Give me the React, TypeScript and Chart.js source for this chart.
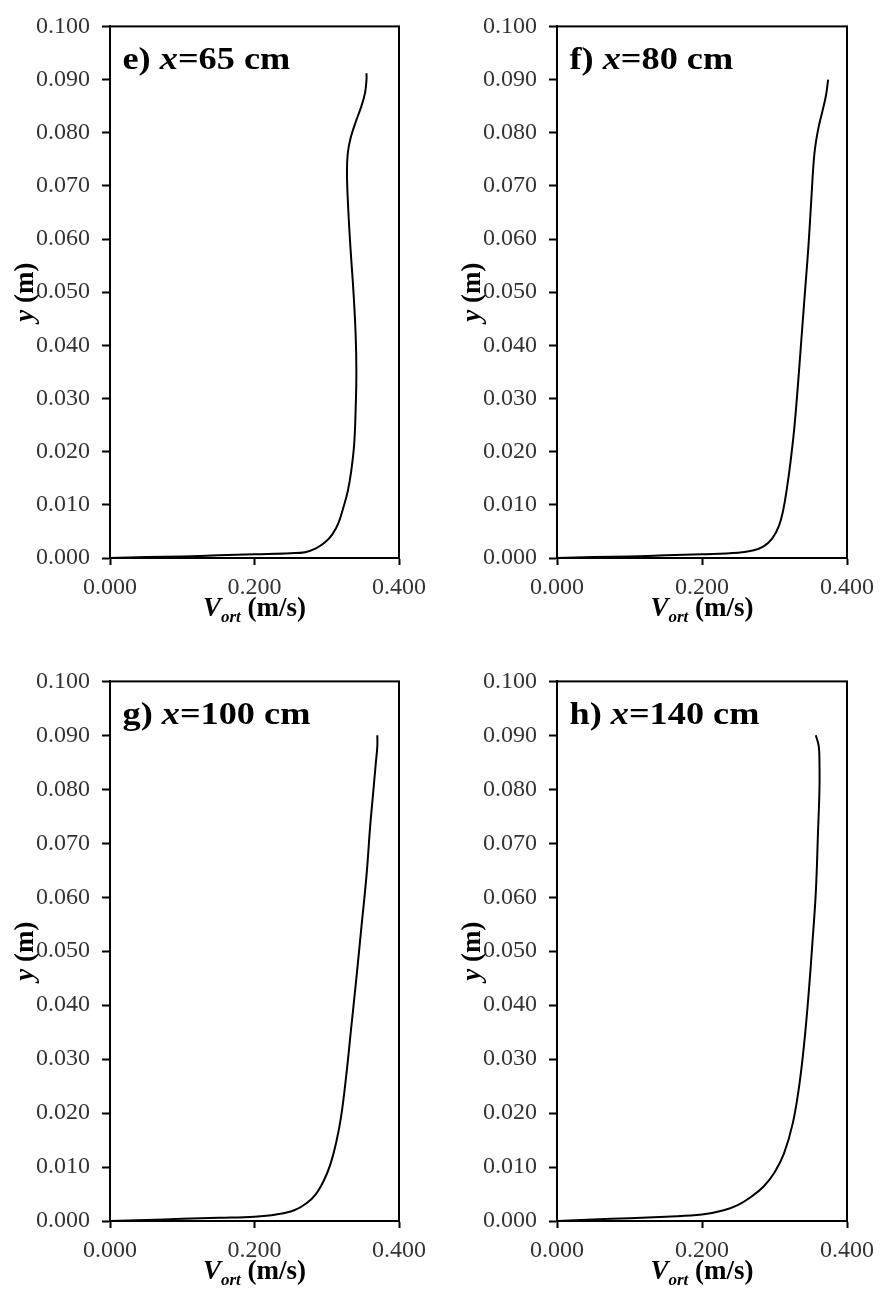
import React, { useEffect, useRef } from 'react';
import { Chart, registerables } from 'chart.js';

Chart.register(...registerables);

// ---- data (V_ort in m/s, y in m) ----
const X_MIN = 0;
const X_MAX = 0.4;
const X_STEP = 0.2;
const Y_MIN = 0;
const Y_MAX = 0.1;
const Y_STEP = 0.01;

const panelLetters = ['e)', 'f)', 'g)', 'h)'];
const panelStations = ['65', '80', '100', '140'];

const velE = [0.000, 0.050, 0.100, 0.150, 0.200, 0.250, 0.270, 0.285, 0.298, 0.308, 0.316, 0.323, 0.329, 0.334, 0.338, 0.340, 0.341, 0.340, 0.337, 0.333, 0.330, 0.328, 0.329, 0.333, 0.340, 0.348, 0.353, 0.355, 0.355];
const yE = [0.0000, 0.0002, 0.0003, 0.0005, 0.0007, 0.0009, 0.0011, 0.0018, 0.0030, 0.0045, 0.0065, 0.0095, 0.0125, 0.0165, 0.0215, 0.0280, 0.0350, 0.0420, 0.0500, 0.0580, 0.0650, 0.0720, 0.0760, 0.0790, 0.0820, 0.0850, 0.0875, 0.0900, 0.0912];

const velF = [0.000, 0.050, 0.100, 0.150, 0.200, 0.250, 0.270, 0.285, 0.297, 0.306, 0.312, 0.317, 0.322, 0.327, 0.332, 0.337, 0.342, 0.347, 0.351, 0.355, 0.360, 0.366, 0.371, 0.374];
const yF = [0.0000, 0.0002, 0.0003, 0.0005, 0.0007, 0.0010, 0.0014, 0.0022, 0.0037, 0.0060, 0.0090, 0.0130, 0.0180, 0.0240, 0.0320, 0.0410, 0.0500, 0.0590, 0.0680, 0.0760, 0.0805, 0.0840, 0.0870, 0.0900];

const velG = [0.000, 0.050, 0.100, 0.150, 0.200, 0.230, 0.255, 0.272, 0.285, 0.296, 0.305, 0.313, 0.320, 0.327, 0.334, 0.341, 0.348, 0.355, 0.360, 0.364, 0.368, 0.370, 0.370];
const yG = [0.0000, 0.0002, 0.0004, 0.0006, 0.0008, 0.0012, 0.0020, 0.0033, 0.0050, 0.0075, 0.0105, 0.0145, 0.0195, 0.0270, 0.0360, 0.0450, 0.0545, 0.0640, 0.0730, 0.0790, 0.0850, 0.0880, 0.0900];

const velH = [0.000, 0.050, 0.100, 0.150, 0.200, 0.230, 0.250, 0.268, 0.285, 0.300, 0.313, 0.325, 0.334, 0.341, 0.347, 0.352, 0.357, 0.360, 0.362, 0.362, 0.361, 0.357];
const yH = [0.0000, 0.0003, 0.0005, 0.0008, 0.0012, 0.0020, 0.0030, 0.0045, 0.0064, 0.0090, 0.0125, 0.0180, 0.0250, 0.0330, 0.0420, 0.0510, 0.0610, 0.0720, 0.0800, 0.0850, 0.0880, 0.0900];

const SERIF = '"Liberation Serif", "Times New Roman", serif';

type Run = { text: string; font: string; dy?: number };

function runsWidth(ctx: CanvasRenderingContext2D, runs: Run[]) {
  let w = 0;
  for (const r of runs) {
    ctx.font = r.font;
    w += ctx.measureText(r.text).width;
  }
  return w;
}

function drawRuns(ctx: CanvasRenderingContext2D, runs: Run[], x: number, y: number) {
  let cx = x;
  for (const r of runs) {
    ctx.font = r.font;
    ctx.fillText(r.text, cx, y + (r.dy || 0));
    cx += ctx.measureText(r.text).width;
  }
}

type PanelProps = {
  vel: number[];
  ys: number[];
  letter: string;
  station: string;
  left: number;
  top: number;
  width: number;
  height: number;
  yAxisWidth: number;
  xAxisHeight: number;
  padTop: number;
  padRight: number;
};

function Panel(p: PanelProps) {
  const ref = useRef<HTMLCanvasElement>(null);
  useEffect(() => {
    if (!ref.current) return;
    const points = p.vel.map((v, i) => ({ x: v, y: p.ys[i] }));
    const decor = {
      id: 'decor',
      afterDraw(chart: any) {
        const { ctx, chartArea: a } = chart;
        ctx.save();
        ctx.strokeStyle = '#000';
        ctx.lineWidth = 2;
        ctx.strokeRect(a.left, a.top, a.right - a.left, a.bottom - a.top);
        ctx.fillStyle = '#000';
        ctx.textBaseline = 'alphabetic';
        // panel label
        ctx.save();
        ctx.translate(a.left + 12.5, a.top + 43);
        ctx.scale(1.17, 1);
        drawRuns(ctx, [
          { text: p.letter + ' ', font: `bold 31px ${SERIF}` },
          { text: 'x', font: `italic bold 31px ${SERIF}` },
          { text: '=' + p.station + ' cm', font: `bold 31px ${SERIF}` },
        ], 0, 0);
        ctx.restore();
        // x title
        const xr: Run[] = [
          { text: 'V', font: `italic bold 27px ${SERIF}` },
          { text: 'ort', font: `italic bold 17px ${SERIF}`, dy: 6 },
          { text: ' (m/s)', font: `bold 27px ${SERIF}` },
        ];
        const xw = runsWidth(ctx, xr);
        drawRuns(ctx, xr, (a.left + a.right) / 2 - xw / 2, a.bottom + 58);
        // y title
        const yr: Run[] = [
          { text: 'y', font: `italic bold 27px ${SERIF}` },
          { text: ' (m)', font: `bold 27px ${SERIF}` },
        ];
        ctx.save();
        ctx.translate(a.left - 77, (a.top + a.bottom) / 2);
        ctx.rotate(-Math.PI / 2);
        const yw = runsWidth(ctx, yr);
        drawRuns(ctx, yr, -yw / 2, 0);
        ctx.restore();
        ctx.restore();
      },
    };
    const tickFont = { family: SERIF, size: 24 };
    const chart = new Chart(ref.current, {
      type: 'scatter',
      data: {
        datasets: [
          {
            data: points,
            showLine: true,
            borderColor: '#000',
            borderWidth: 2,
            pointRadius: 0,
            tension: 0.4,
            fill: false,
          },
        ],
      },
      options: {
        animation: false,
        responsive: false,
        maintainAspectRatio: false,
        layout: { padding: { top: p.padTop, right: p.padRight, left: 0, bottom: 0 } },
        plugins: { legend: { display: false }, tooltip: { enabled: false }, title: { display: false } },
        scales: {
          x: {
            type: 'linear',
            min: X_MIN,
            max: X_MAX,
            afterFit: (s: any) => { s.height = p.xAxisHeight; },
            ticks: {
              stepSize: X_STEP,
              font: tickFont,
              color: '#333',
              padding: 8,
              maxRotation: 0,
              callback: (v: any) => Number(v).toFixed(3),
            },
            grid: { display: true, drawOnChartArea: false, drawTicks: true, tickLength: 7, tickColor: '#000', tickWidth: 2 },
            border: { display: true, color: '#000', width: 2 },
          },
          y: {
            type: 'linear',
            min: Y_MIN,
            max: Y_MAX,
            afterFit: (s: any) => { s.width = p.yAxisWidth; },
            ticks: {
              stepSize: Y_STEP,
              font: tickFont,
              color: '#333',
              padding: 12,
              callback: (v: any) => Number(v).toFixed(3),
            },
            grid: { display: true, drawOnChartArea: false, drawTicks: true, tickLength: 8, tickColor: '#000', tickWidth: 2 },
            border: { display: true, color: '#000', width: 2 },
          },
        },
      },
      plugins: [decor],
    } as any);
    return () => chart.destroy();
  }, []);
  return (
    <canvas
      ref={ref}
      width={p.width}
      height={p.height}
      style={{ position: 'absolute', left: p.left, top: p.top, width: p.width, height: p.height }}
    />
  );
}

export default function App() {
  return (
    <div style={{ position: 'absolute', left: 0, top: 0, width: 880, height: 1295, background: '#fff', overflow: 'hidden' }}>
      <Panel vel={velE} ys={yE} letter={panelLetters[0]} station={panelStations[0]}
        left={0} top={0} width={440} height={655} yAxisWidth={110} xAxisHeight={97} padTop={15} padRight={41} />
      <Panel vel={velF} ys={yF} letter={panelLetters[1]} station={panelStations[1]}
        left={440} top={0} width={460} height={655} yAxisWidth={117} xAxisHeight={97} padTop={15} padRight={53} />
      <Panel vel={velG} ys={yG} letter={panelLetters[2]} station={panelStations[2]}
        left={0} top={655} width={440} height={640} yAxisWidth={110} xAxisHeight={74} padTop={22} padRight={41} />
      <Panel vel={velH} ys={yH} letter={panelLetters[3]} station={panelStations[3]}
        left={440} top={655} width={460} height={640} yAxisWidth={117} xAxisHeight={74} padTop={22} padRight={53} />
    </div>
  );
}
